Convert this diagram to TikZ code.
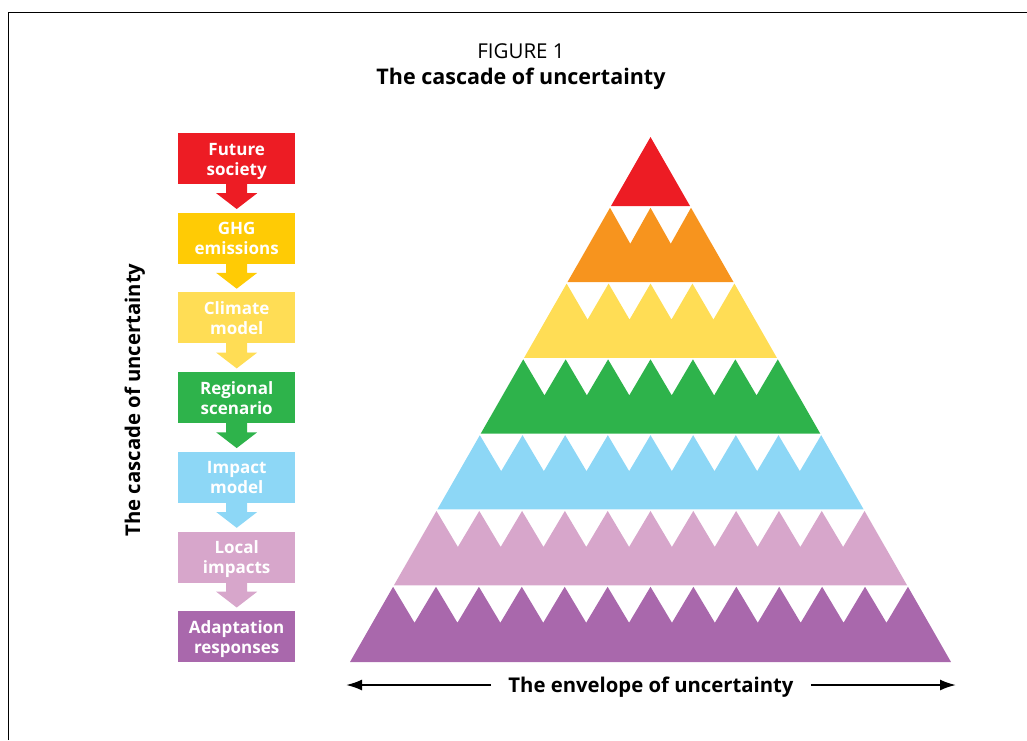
\documentclass[tikz,border=0pt]{standalone}
\usepackage{fontspec}
\setmainfont{Open Sans}
\usetikzlibrary{arrows.meta}
\usetikzlibrary{calc}

\definecolor{cascRed}{HTML}{ED1C24}
\definecolor{cascOrange}{HTML}{F7941E}
\definecolor{cascGold}{HTML}{FFCB05}
\definecolor{cascYellow}{HTML}{FFDD55}
\definecolor{cascGreen}{HTML}{2EB34B}
\definecolor{cascBlue}{HTML}{8DD7F6}
\definecolor{cascPink}{HTML}{D7A6CB}
\definecolor{cascPurple}{HTML}{A968AC}

% one band of the pyramid: top y, bottom y, number of notches, colour
\newcommand{\drawBandSaw}[4]{
	\pgfmathsetmacro{\wT}{0.57238*(#1-137)}
	\pgfmathsetmacro{\wB}{0.57238*(#2-137)}
	\pgfmathsetmacro{\pkGap}{2*\wT/#3}
	\pgfmathtruncatemacro{\nLast}{#3-1}
	\fill[#4] (650.5-\wB,#2) -- (650.5-\wT,#1)
		\foreach \j in {0,...,\nLast} {
			-- ({650.5-\wT+(\j+0.5)*\pkGap},#1+36) -- ({650.5-\wT+(\j+1)*\pkGap},#1)
		}
		-- (650.5+\wB,#2) -- cycle;
}
% block arrow from one box down to the next
\newcommand{\drawStepArrow}[3]{
	\fill[#3] let
		\p1 = (#1.south), \p2 = (#2.north)
		in
		(\x1-10.5pt,\y1+0.5pt) -- (\x1+10.5pt,\y1+0.5pt) -- (\x1+10.5pt,\y1-9pt) -- (\x1+20.5pt,\y1-9pt)
		-- (\x1,\y2+3.5pt) -- (\x1-20.5pt,\y1-9pt) -- (\x1-10.5pt,\y1-9pt) -- cycle;
}

\begin{document}
\begin{tikzpicture}[x=1pt,y=-1pt,
	stepbox/.style={minimum width=117pt,minimum height=51pt,inner sep=0pt,align=center,
		text=white,font=\fontsize{17}{20}\selectfont\bfseries,
		text height=33pt,text depth=0pt},
	bigtext/.style={font=\fontsize{20.3}{24}\selectfont\bfseries},
	envarrow/.style={-{Latex[length=16pt,width=11pt]},line width=2pt}]
	\useasboundingbox (0,0) rectangle (1027,740);
	\draw[line width=1pt] (8.5,740) -- (8.5,12.5) -- (1027,12.5);

	% title
	\node[anchor=base,font=\fontsize{20.5}{24}\selectfont] (figno) at (521,58) {FIGURE 1};
	\node[anchor=base,font=\fontsize{21.5}{26}\selectfont\bfseries] (title) at (521,84) {The cascade of uncertainty};

	% left column
	\node[anchor=base,bigtext,rotate=90] (cascade) at (140,400) {The cascade of uncertainty};

	\node[stepbox,fill=cascRed] (society) at (236.7,158.5) {Future\\society};
	\node[stepbox,fill=cascGold] (ghg) at (236.7,238.2) {GHG\\emissions};
	\node[stepbox,fill=cascYellow] (climate) at (236.7,317.9) {Climate\\model};
	\node[stepbox,fill=cascGreen] (regional) at (236.7,397.6) {Regional\\scenario};
	\node[stepbox,fill=cascBlue] (impact) at (236.7,477.3) {Impact\\model};
	\node[stepbox,fill=cascPink] (local) at (236.7,557.0) {Local\\impacts};
	\node[stepbox,fill=cascPurple] (adapt) at (236.7,636.7) {Adaptation\\responses};

	\drawStepArrow{society}{ghg}{cascRed}
	\drawStepArrow{ghg}{climate}{cascGold}
	\drawStepArrow{climate}{regional}{cascYellow}
	\drawStepArrow{regional}{impact}{cascGreen}
	\drawStepArrow{impact}{local}{cascBlue}
	\drawStepArrow{local}{adapt}{cascPink}

	% pyramid
	\fill[cascRed] (650.5,137) -- (611,206) -- (690,206) -- cycle;
	\drawBandSaw{207.75}{282.05}{2}{cascOrange}
	\drawBandSaw{283.55}{357.85}{4}{cascYellow}
	\drawBandSaw{359.35}{433.65}{6}{cascGreen}
	\drawBandSaw{435.15}{509.45}{8}{cascBlue}
	\drawBandSaw{510.95}{585.25}{10}{cascPink}
	\drawBandSaw{586.75}{662}{12}{cascPurple}

	% envelope
	\coordinate (ENV_L) at (346,685);
	\coordinate (ENV_R) at (956,685);
	\node[anchor=base,bigtext,inner xsep=17pt] (envelope) at (651,692) {The envelope of uncertainty};
	\draw[envarrow] (envelope.west |- ENV_L) -- (ENV_L);
	\draw[envarrow] (envelope.east |- ENV_R) -- (ENV_R);
\end{tikzpicture}
\end{document}
